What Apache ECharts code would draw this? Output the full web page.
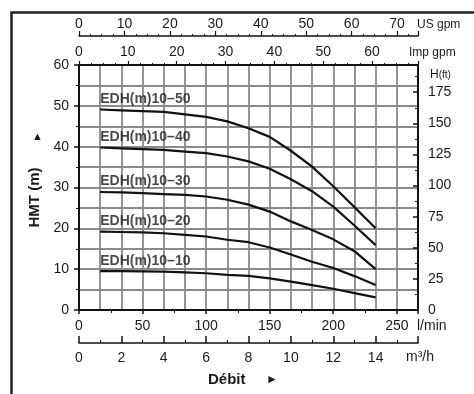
<!DOCTYPE html>
<html>
<head>
<meta charset="utf-8">
<script src="https://cdn.jsdelivr.net/npm/echarts@6/dist/echarts.min.js"></script>
<style>
html,body{margin:0;padding:0;background:#fff;}
#main{width:474px;height:394px;}
</style>
</head>
<body>
<div id="main"></div>
<script>
// debit en m3/h
var flow = [1, 2, 3, 4, 5, 6, 7, 8, 9, 10, 11, 12, 13, 14];
// HMT (m) pour chaque modele
var h1050 = [49.1, 48.9, 48.7, 48.5, 47.9, 47.3, 46.2, 44.5, 42.4, 39.0, 35.1, 30.3, 25.2, 20.0];
var h1040 = [39.8, 39.6, 39.4, 39.2, 38.8, 38.4, 37.6, 36.4, 34.6, 32.0, 29.1, 25.3, 20.7, 15.9];
var h1030 = [28.9, 28.8, 28.6, 28.4, 28.2, 27.8, 27.0, 25.8, 24.1, 21.7, 19.6, 17.3, 14.4, 10.0];
var h1020 = [19.2, 19.1, 19.0, 18.8, 18.4, 18.0, 17.2, 16.6, 15.3, 13.6, 11.8, 10.3, 8.3, 6.1];
var h1010 = [9.5, 9.5, 9.45, 9.4, 9.2, 9.0, 8.6, 8.35, 7.75, 6.95, 6.1, 5.2, 4.15, 3.1];
var models = ['EDH(m)10–50', 'EDH(m)10–40', 'EDH(m)10–30', 'EDH(m)10–20', 'EDH(m)10–10'];
var heads = [h1050, h1040, h1030, h1020, h1010];

// bornes des echelles
var m3hMax = 16;
var lminMax = 266.67;
var usMax = 74.6;
var impMax = 69.4;
var hMax = 60;
var ftMax = 196.85;

var font = 'Liberation Sans';
var txt = '#1a1a1a';
var gridCol = '#8a8a8a';

var myChart = echarts.init(document.getElementById('main'));

var series = [];
for (var i = 0; i < models.length; i++) {
	series.push({
		name: models[i],
		type: 'line',
		xAxisIndex: 1,
		yAxisIndex: 0,
		showSymbol: false,
		symbol: 'none',
		silent: true,
		lineStyle: {color: '#111', width: 2.2},
		data: flow.map(function (q, j) { return [q, heads[i][j]]; })
	});
}
// etiquettes des courbes
series.push({
	type: 'scatter',
	xAxisIndex: 1,
	yAxisIndex: 0,
	symbolSize: 1,
	silent: true,
	itemStyle: {color: 'rgba(0,0,0,0)'},
	label: {
		show: true,
		position: 'top',
		align: 'left',
		distance: 3,
		fontFamily: font,
		fontWeight: 'bold',
		fontSize: 14,
		color: txt,
		formatter: function (p) { return p.data[2]; }
	},
	data: models.map(function (m, i) { return [flow[0], heads[i][0], m]; })
});

function only(step) {
	return function (v) {
		var r = Math.round(v);
		return (Math.abs(v - r) < 1e-6 && r % step === 0) ? String(r) : '';
	};
}

var tickLab = {fontFamily: font, fontSize: 14, color: txt};

var option = {
	animation: false,
	grid: {left: 79, right: 56, top: 65, bottom: 84},
	xAxis: [
		{ // l/min
			type: 'value', position: 'bottom', min: 0, max: lminMax, interval: 50,
			axisLine: {onZero: false, lineStyle: {color: '#111', width: 2}},
			axisTick: {length: 4, lineStyle: {color: '#111', width: 1.5}},
			minorTick: {show: true, splitNumber: 2, length: 3, lineStyle: {color: '#111'}},
			axisLabel: Object.assign({margin: 9, formatter: only(50)}, tickLab),
			splitLine: {show: false},
			name: 'l/min', nameLocation: 'end', nameGap: -1,
			nameTextStyle: {fontFamily: font, fontSize: 14, color: txt, align: 'left', verticalAlign: 'top', padding: [9, 0, 0, 0]}
		},
		{ // m3/h
			type: 'value', position: 'bottom', offset: 33, min: 0, max: m3hMax, interval: 2,
			axisLine: {onZero: false, lineStyle: {color: '#111', width: 1.5}},
			axisTick: {inside: true, length: 7, lineStyle: {color: '#111', width: 1.5}},
			minorTick: {show: true, splitNumber: 2, length: 3, lineStyle: {color: '#111'}},
			axisLabel: Object.assign({margin: 8, formatter: function (v) { return v < m3hMax ? String(v) : ''; }}, tickLab),
			splitLine: {show: true, lineStyle: {color: gridCol, width: 1.8}},
			minorSplitLine: {show: true, lineStyle: {color: gridCol, width: 1.8}},
			name: 'm³/h', nameLocation: 'end', nameGap: -12,
			nameTextStyle: {fontFamily: font, fontSize: 14, color: txt, align: 'left', verticalAlign: 'top', padding: [7, 0, 0, 0]}
		},
		{ // US gpm
			type: 'value', position: 'top', offset: 29, min: 0, max: usMax, interval: 10,
			axisLine: {onZero: false, lineStyle: {color: '#111', width: 1.5}},
			axisTick: {length: 5, lineStyle: {color: '#111', width: 1.2}},
			minorTick: {show: true, splitNumber: 4, length: 2, lineStyle: {color: '#111'}},
			axisLabel: Object.assign({margin: 5, formatter: only(10)}, tickLab),
			splitLine: {show: false},
			name: 'US gpm', nameLocation: 'end', nameGap: -1,
			nameTextStyle: {fontFamily: font, fontSize: 12, color: txt, align: 'left', verticalAlign: 'bottom', padding: [0, 0, 5, 0]}
		},
		{ // Imp gpm
			type: 'value', position: 'top', offset: 0, min: 0, max: impMax, interval: 10,
			axisLine: {onZero: false, lineStyle: {color: '#111', width: 2}},
			axisTick: {length: 4, lineStyle: {color: '#111', width: 1.2}},
			minorTick: {show: true, splitNumber: 4, length: 2, lineStyle: {color: '#111'}},
			axisLabel: Object.assign({margin: 6, formatter: only(10)}, tickLab),
			splitLine: {show: false},
			name: 'Imp gpm', nameLocation: 'end', nameGap: -9,
			nameTextStyle: {fontFamily: font, fontSize: 12, color: txt, align: 'left', verticalAlign: 'bottom', padding: [0, 0, 6, 0]}
		}
	],
	yAxis: [
		{ // HMT m
			type: 'value', position: 'left', min: 0, max: hMax, interval: 10,
			axisLine: {onZero: false, lineStyle: {color: '#111', width: 2}},
			axisTick: {length: 5, lineStyle: {color: '#111', width: 1.5}},
			minorTick: {show: true, splitNumber: 2, length: 3, lineStyle: {color: '#111'}},
			axisLabel: Object.assign({margin: 10}, tickLab),
			splitLine: {show: true, lineStyle: {color: gridCol, width: 1.8}},
			minorSplitLine: {show: true, lineStyle: {color: gridCol, width: 1.8}},
			name: 'HMT (m)', nameLocation: 'middle', nameRotate: 90, nameGap: 36,
			nameTextStyle: {fontFamily: font, fontSize: 15, fontWeight: 'bold', color: txt, padding: [0, 20, 0, 0]}
		},
		{ // H ft
			type: 'value', position: 'right', min: 0, max: ftMax, interval: 25,
			axisLine: {onZero: false, lineStyle: {color: '#111', width: 2}},
			axisTick: {inside: true, length: 5, lineStyle: {color: '#111', width: 1.5}},
			minorTick: {show: true, splitNumber: 2, length: 3, lineStyle: {color: '#111'}},
			axisLabel: Object.assign({margin: 10, formatter: only(25)}, tickLab),
			splitLine: {show: false},
			name: '{a|H}{b|(ft)}', nameLocation: 'end', nameGap: -16,
			nameTextStyle: {align: 'left', verticalAlign: 'bottom', padding: [0, 0, 0, 12],
				rich: {a: {fontFamily: font, fontSize: 12, color: txt}, b: {fontFamily: font, fontSize: 10, color: txt}}}
		}
	],
	graphic: [
		{type: 'rect', left: 9, top: 10, shape: {width: 480, height: 400}, style: {fill: 'none', stroke: '#222', lineWidth: 2.5}, silent: true},
		{type: 'text', left: 32, top: 131, style: {text: '▲', fontSize: 11, fill: txt}},
		{type: 'text', left: 208, top: 372, style: {text: 'Débit', fontFamily: font, fontSize: 15, fontWeight: 'bold', fill: txt}},
		{type: 'text', left: 266, top: 374, style: {text: '►', fontSize: 12, fill: txt}}
	],
	series: series
};

if (option && typeof option === "object") {
	myChart.setOption(option, true);
}
</script>
</body>
</html>
